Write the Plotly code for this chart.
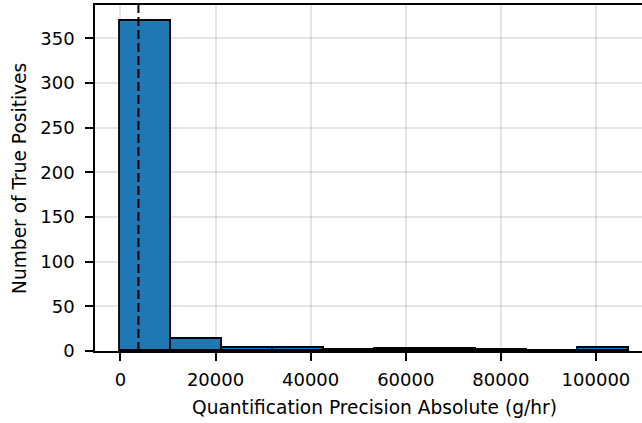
import plotly.graph_objects as go

# Histogram data
bin_start = 0
bin_width = 10694
counts = [369, 13, 3, 3, 1, 2, 2, 1, 0, 3]
median_value = 3790

x_ticks = [0, 20000, 40000, 60000, 80000, 100000]
y_ticks = [0, 50, 100, 150, 200, 250, 300, 350]
x_range = [-5347, 109680]
y_range = [0, 387.45]

x_title = "Quantification Precision Absolute (g/hr)"
y_title = "Number of True Positives"

centers = [bin_start + bin_width * (i + 0.5) for i in range(len(counts))]

FONT = "DejaVu Sans"

fig = go.Figure()
fig.add_trace(go.Bar(
    x=centers, y=counts, width=[bin_width] * len(counts),
    marker=dict(color="#1f77b4", line=dict(color="black", width=1.9)),
    showlegend=False,
))

fig.add_vline(x=median_value, line=dict(color="black", width=2, dash="9px,4px"))

fig.update_layout(
    width=642, height=423,
    margin=dict(l=95, r=0, t=5, b=72, autoexpand=False),
    plot_bgcolor="white", paper_bgcolor="white",
    font=dict(family=FONT, size=18, color="black"),
    bargap=0,
)

fig.update_xaxes(
    range=x_range, tickvals=x_ticks, ticktext=[str(v) for v in x_ticks],
    showgrid=True, gridcolor="rgba(0,0,0,0.1)", gridwidth=1.5,
    showline=True, linecolor="black", linewidth=1.6, mirror=True,
    ticks="outside", ticklen=8, tickwidth=1.6, tickcolor="black",
    zeroline=False, ticklabelstandoff=4, automargin=False,
    tickfont=dict(family=FONT, size=18, color="black"),
)
fig.update_yaxes(
    range=y_range, tickvals=y_ticks, ticktext=[str(v) for v in y_ticks],
    showgrid=True, gridcolor="rgba(0,0,0,0.1)", gridwidth=1.5,
    showline=True, linecolor="black", linewidth=1.6, mirror=False,
    ticks="outside", ticklen=8, tickwidth=1.6, tickcolor="black",
    zeroline=False, ticklabelstandoff=7, automargin=False,
    tickfont=dict(family=FONT, size=18, color="black"),
)

fig.add_annotation(
    text=x_title, xref="paper", yref="paper", x=0.511, y=-0.162,
    xanchor="center", yanchor="middle", showarrow=False,
    font=dict(family=FONT, size=18.6, color="black"),
)
fig.add_annotation(
    text=y_title, xref="paper", yref="paper", x=-0.139, y=0.5,
    xanchor="center", yanchor="middle", showarrow=False, textangle=-90,
    font=dict(family=FONT, size=18.6, color="black"),
)

fig.write_html(
    "out.html",
    config={"displayModeBar": False},
    post_script="document.body.style.margin='0';document.body.style.overflow='hidden';",
)
